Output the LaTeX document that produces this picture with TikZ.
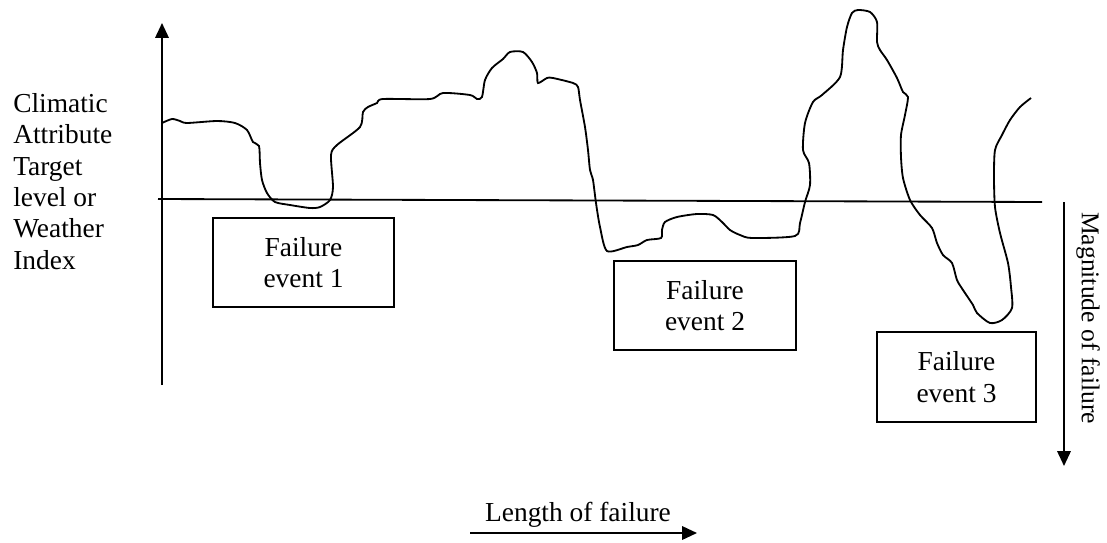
\documentclass[tikz,border=0pt]{standalone}
\usepackage{fontspec}
\setmainfont{Liberation Serif}
\usetikzlibrary{arrows.meta}
\newcommand\lblfont{\fontsize{19.5}{22.3}\selectfont}
\tikzset{axis/.style = {line width=1.3pt}}
\tikzset{arr/.style = {axis, -{Triangle[length=10.5pt, width=9.5pt]}}}
\tikzset{event/.style = {draw, line width=1.2pt, align=center, inner sep=0, font=\lblfont}}
\tikzset{lbl/.style = {inner sep=0, font=\lblfont}}

\begin{document}
\begin{tikzpicture}[x=0.025cm, y=-0.025cm]
      \useasboundingbox (0,0) rectangle (1107,542);
      % axes
      \coordinate (o) at (162,385);
      \coordinate (ytip) at (162,23);
      \coordinate (t0) at (158,199);
      \coordinate (t1) at (1042,202);
      \draw [arr] (o) -- (ytip);
      \draw [axis] (t0) -- (t1);
      \node [lbl, anchor = north west, align = left] (attr) at (13,93)
            {Climatic\\Attribute\\Target\\level or\\Weather\\Index};
      % weather index
      \draw [line width=1.3pt] plot [smooth, tension=0.45] coordinates {
        (162,123) (172,119) (180,121) (187,123) (217,121) (235,123) (247,130)
        (253,142) (259,146) (260,163) (262,180) (267,193) (275,202) (290,205)
        (310,208) (320,207) (330,200) (333,187) (331,155) (337,145) (360,127)
        (363,112) (368,107) (377,103) (383,99) (430,99) (443,93) (470,95)
        (477,99) (482,97) (485,80) (492,68) (503,59) (510,52) (523,52)
        (532,62) (537,73) (538,83) (547,78) (553,78) (573,83) (578,87)
        (580,100) (585,127) (588,150) (590,170) (593,180) (596,203) (600,227)
        (607,251) (627,247) (638,245) (647,240) (661,238) (662,230) (665,222)
        (677,217) (697,214) (713,215) (722,222) (730,230) (740,235) (752,238)
        (795,236) (800,223) (805,202) (810,185) (809,163) (803,150) (805,123)
        (813,102) (822,95) (840,77) (843,50) (847,27) (852,13) (858,10)
        (870,12) (877,22) (877,42) (880,50) (887,60) (897,78) (903,92)
        (908,97) (905,115) (901,135) (901,157) (903,178) (910,200) (920,215)
        (932,228) (937,243) (943,255) (952,263) (957,280) (963,290) (973,305)
        (977,313) (990,323) (1002,320) (1012,308) (1011,287) (1008,263) (1000,233)
        (995,207) (994,177) (995,150) (1002,135) (1010,120) (1020,107) (1031,98)};
      % failure events
      \node [event, minimum width = 181*0.025cm, minimum height = 89*0.025cm] (ev1) at (303.5,262.5) {Failure\\event 1};
      \node [event, minimum width = 182*0.025cm, minimum height = 89*0.025cm] (ev2) at (705,305.5) {Failure\\event 2};
      \node [event, minimum width = 159*0.025cm, minimum height = 90*0.025cm] (ev3) at (956.5,377) {Failure\\event 3};
      % magnitude and length
      \coordinate (m0) at (1064,202);
      \coordinate (m1) at (1064,466);
      \draw [arr] (m0) -- (m1);
      \node [lbl, font = \fontsize{18.2}{21}\selectfont, rotate = -90] (mag) at (1088,318) {Magnitude of failure};
      \coordinate (l0) at (470,533);
      \coordinate (l1) at (697,533);
      \draw [arr] (l0) -- (l1);
      \node [lbl, anchor = base] (len) at (578,521) {Length of failure};
    \end{tikzpicture}
\end{document}
